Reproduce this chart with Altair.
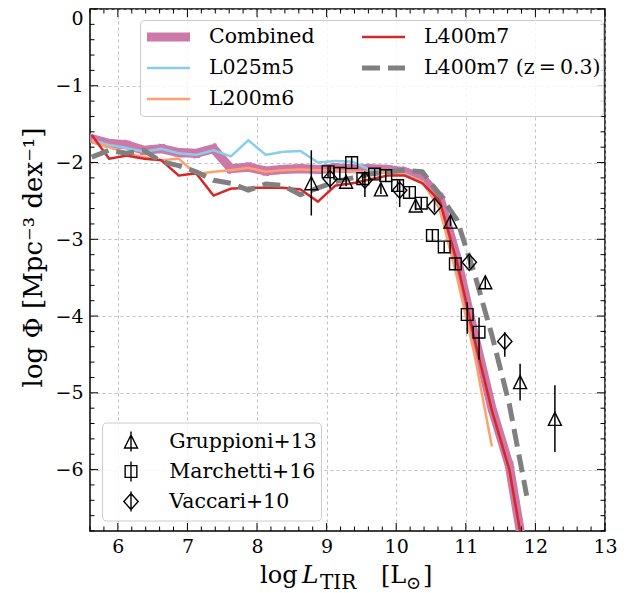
import altair as alt
import pandas as pd

# ---------------- data ----------------
bins = [5.625, 5.875, 6.125, 6.375, 6.625, 6.875, 7.125, 7.375, 7.625, 7.875,
        8.125, 8.375, 8.625, 8.875, 9.125, 9.375, 9.625, 9.875, 10.125, 10.375,
        10.625, 10.875, 11.125, 11.375, 11.625, 11.875]

combined = [-1.69, -1.75, -1.77, -1.84, -1.82, -1.87, -1.88, -1.82, -2.08, -2.06,
            -2.11, -2.09, -2.08, -2.09, -2.07, -2.08, -2.08, -2.09, -2.12, -2.20,
            -2.45, -3.25, -4.25, -5.20, -5.95, -7.30]
l025m5 = [-1.71, -1.77, -1.81, -1.86, -1.82, -1.88, -1.90, -1.84, -1.92, -1.71,
          -1.90, -1.86, -1.85, -2.00, -1.98, -1.99, -2.10, -2.12, -2.15, -2.25,
          -2.60]
l200m6 = [-1.73, -1.80, -1.88, -1.93, -1.97, -1.95, -2.15, -2.12, -2.10, -2.07,
          -2.12, -2.10, -2.09, -2.10, -2.10, -2.12, -2.12, -2.13, -2.16, -2.25,
          -2.60, -3.50, -4.50, -5.70]
l400m7 = [-1.64, -1.95, -1.91, -1.95, -1.97, -2.17, -2.14, -2.43, -2.34, -2.33,
          -2.33, -2.33, -2.35, -2.51, -2.30, -2.27, -2.22, -2.17, -2.17, -2.27,
          -2.50, -3.30, -4.30, -5.23, -6.00, -7.30]
l400m7_z03 = [-1.93, -1.84, -1.88, -1.84, -1.99, -2.04, -2.12, -2.23, -2.27, -2.36,
              -2.28, -2.30, -2.42, -2.33, -2.25, -2.20, -2.15, -2.12, -2.10, -2.12,
              -2.42, -2.75, -3.45, -4.25, -5.15, -6.34]

grup_x = [8.78, 9.28, 9.78, 10.28, 10.78, 11.28, 11.78, 12.28]
grup_y = [-2.27, -2.25, -2.35, -2.56, -2.77, -3.56, -4.86, -5.34]
grup_lo = [-2.69, -2.31, -2.41, -2.62, -2.83, -3.64, -5.10, -5.77]
grup_hi = [-1.84, -2.19, -2.29, -2.50, -2.71, -3.48, -4.62, -4.90]

marc_x = [9.02, 9.19, 9.36, 9.52, 9.69, 9.85, 10.02, 10.19, 10.36, 10.52, 10.69, 10.85, 11.02, 11.19]
marc_y = [-2.12, -2.14, -2.00, -2.21, -2.15, -2.17, -2.30, -2.39, -2.53, -2.95, -3.10, -3.32, -3.98, -4.21]
marc_lo = [-2.19, -2.21, -2.07, -2.28, -2.22, -2.24, -2.37, -2.46, -2.60, -3.02, -3.17, -3.39, -4.23, -4.57]
marc_hi = [-2.05, -2.07, -1.93, -2.14, -2.08, -2.10, -2.23, -2.32, -2.46, -2.88, -3.03, -3.25, -3.82, -4.02]

vacc_x = [9.05, 9.55, 10.05, 10.55, 11.05, 11.56]
vacc_y = [-2.21, -2.23, -2.36, -2.57, -3.30, -4.33]
vacc_lo = [-2.34, -2.45, -2.58, -2.65, -3.38, -4.53]
vacc_hi = [-2.04, -2.12, -2.23, -2.49, -3.22, -4.21]

x_major = [6, 7, 8, 9, 10, 11, 12, 13]
y_major = [0, -1, -2, -3, -4, -5, -6]
x_minor = [round(5.6 + 0.2 * i, 1) for i in range(38)]
x_minor = [v for v in x_minor if abs(v - round(v)) > 1e-6]
y_minor = [round(-0.2 * i, 1) for i in range(35)]
y_minor = [v for v in y_minor if abs(v - round(v)) > 1e-6]

Z_LABEL = "L400m7 (z\u2009=\u20090.3)"
series_order = ["Combined", "L025m5", "L200m6", "L400m7", Z_LABEL]
series_colors = ["#CC79A7", "#87CEEB", "#FFA06E", "#D62728", "#808080"]
series_widths = [9, 2.5, 2.5, 2.5, 5]
series_dash = [[1, 0], [1, 0], [1, 0], [1, 0], [18, 8]]

surveys = ["Gruppioni+13", "Marchetti+16", "Vaccari+10"]
shape_plain = ["M0,-1L1,1L-1,1Z",
               "M-0.9,-0.9L0.9,-0.9L0.9,0.9L-0.9,0.9Z",
               "M0,-1.24L1.1,0L0,1.24L-1.1,0Z"]
shape_bar = [p + "M0,-1.54L0,1.54" for p in shape_plain]

# ---------------- layout ----------------
W, H = 515, 522
SERIF = "DejaVu Serif"
MAJ, MIN = 8, 4.5

xsc = alt.Scale(domain=[5.6, 13], nice=False, zero=False)
ysc = alt.Scale(domain=[-6.8, 0], nice=False, zero=False)

common_axis = dict(grid=True, gridColor="#b0b0b0", gridDash=[3, 3], gridWidth=0.8,
                   domain=False, ticks=False, tickSize=0, labelFont=SERIF,
                   labelFontSize=19, labelColor="black", labelOverlap=False, format="d")
X_AX = alt.Axis(values=x_major, title=None, labelPadding=6, labelFlush=False, **common_axis)
Y_AX = alt.Axis(values=y_major, title="log Φ  [Mpc⁻³ dex⁻¹]", titleFont=SERIF,
                titleFontSize=26, titleFontWeight="normal", titleColor="black",
                titleX=-57, titleY=248, titleAngle=270, titleAlign="center",
                titleBaseline="middle", labelPadding=7, labelFlush=True,
                labelFlushOffset=0, **common_axis)

line_legend = alt.Legend(title=None, orient="none", legendX=50, legendY=11, columns=2,
                         direction="vertical",
                         fillColor="rgba(255,255,255,0.8)", strokeColor="#cccccc",
                         cornerRadius=4, padding=1.5, clipHeight=31, rowPadding=0,
                         columnPadding=41, symbolType="stroke", symbolSize=1849,
                         symbolOffset=1, labelOffset=14.5, labelFont=SERIF,
                         labelFontSize=20.5, labelColor="black", labelLimit=400)

frames = []
for name, vals in [("Combined", combined), ("L025m5", l025m5), ("L200m6", l200m6),
                   ("L400m7", l400m7), (Z_LABEL, l400m7_z03)]:
    frames.append(pd.DataFrame({"series": name, "x": bins[:len(vals)], "y": vals}))


def line_layer(df):
    cap = "square" if df["series"].iloc[0] == "Combined" else "butt"
    return alt.Chart(df).mark_line(clip=True, strokeJoin="round", strokeCap=cap).encode(
        x=alt.X("x:Q", scale=xsc, axis=X_AX),
        y=alt.Y("y:Q", scale=ysc, axis=Y_AX),
        color=alt.Color("series:N", scale=alt.Scale(domain=series_order, range=series_colors),
                        legend=line_legend),
        strokeWidth=alt.StrokeWidth("series:N",
                                    scale=alt.Scale(type="ordinal", domain=series_order,
                                                    range=series_widths),
                                    legend=line_legend),
        strokeDash=alt.StrokeDash("series:N", scale=alt.Scale(domain=series_order, range=series_dash),
                                  legend=line_legend),
    )


line_layers = [line_layer(f) for f in frames]

obs = pd.concat([
    pd.DataFrame({"survey": surveys[0], "x": grup_x, "y": grup_y, "lo": grup_lo, "hi": grup_hi}),
    pd.DataFrame({"survey": surveys[1], "x": marc_x, "y": marc_y, "lo": marc_lo, "hi": marc_hi}),
    pd.DataFrame({"survey": surveys[2], "x": vacc_x, "y": vacc_y, "lo": vacc_lo, "hi": vacc_hi}),
])

errbars = alt.Chart(obs).mark_rule(color="black", strokeWidth=1.5, clip=True).encode(
    x=alt.X("x:Q", scale=xsc, axis=X_AX),
    y=alt.Y("lo:Q", scale=ysc, axis=Y_AX),
    y2="hi:Q",
)
points = alt.Chart(obs).mark_point(filled=False, color="black", strokeWidth=1.4, size=169,
                                   opacity=1, clip=True).encode(
    x=alt.X("x:Q", scale=xsc, axis=X_AX),
    y=alt.Y("y:Q", scale=ysc, axis=Y_AX),
    shape=alt.Shape("survey:N", scale=alt.Scale(domain=surveys, range=shape_plain), legend=None),
)

pt_legend = alt.Legend(title=None, orient="none", legendX=12, legendY=413.5,
                       fillColor="rgba(255,255,255,0.8)", strokeColor="#cccccc",
                       cornerRadius=4, padding=4, clipHeight=30, rowPadding=0,
                       symbolSize=169, symbolStrokeWidth=1.4, symbolOffset=14.75,
                       labelOffset=28, labelFont=SERIF, labelFontSize=20.5,
                       labelColor="black", symbolStrokeColor="black",
                       symbolFillColor="transparent", labelLimit=400)
legend_pts = alt.Chart(pd.DataFrame({"survey": surveys})).transform_filter("false").mark_point(
    filled=False, color="black", strokeWidth=1.4, size=169, opacity=1).encode(
    shape=alt.Shape("survey:N", scale=alt.Scale(domain=surveys, range=shape_bar), legend=pt_legend),
)


def tick_layer(values, horizontal, length, side):
    df = pd.DataFrame({"v": values})
    base = alt.Chart(df).mark_rule(color="black", strokeWidth=1)
    if horizontal:  # ticks on x axis
        if side == "bottom":
            y, y2 = H, H - length
        else:
            y, y2 = 0, length
        return base.encode(x=alt.X("v:Q", scale=xsc, axis=X_AX), y=alt.value(y), y2=alt.value(y2))
    if side == "left":
        x, x2 = 0, length
    else:
        x, x2 = W, W - length
    return base.encode(y=alt.Y("v:Q", scale=ysc, axis=Y_AX), x=alt.value(x), x2=alt.value(x2))


ticks = [
    tick_layer(x_major, True, MAJ, "bottom"), tick_layer(x_major, True, MAJ, "top"),
    tick_layer(x_minor, True, MIN, "bottom"), tick_layer(x_minor, True, MIN, "top"),
    tick_layer(y_major, False, MAJ, "left"), tick_layer(y_major, False, MAJ, "right"),
    tick_layer(y_minor, False, MIN, "left"), tick_layer(y_minor, False, MIN, "right"),
]


def label(text, x, y, size=24, style="normal"):
    return alt.Chart(pd.DataFrame({"t": [text]})).mark_text(
        font=SERIF, fontSize=size, fontStyle=style, align="left", baseline="alphabetic",
        color="black").encode(text="t:N", x=alt.value(x), y=alt.value(y))


xtitle = [
    label("log", 170, 574),
    label("L", 212, 574, size=25, style="italic"),
    label("TIR", 230, 580, size=20),
    label("[L", 291, 574),
    label("⊙", 316, 580, size=18),
    label("]", 333, 574),
]

chart = alt.layer(
    *line_layers, errbars, points, legend_pts, *ticks, *xtitle
).resolve_scale(shape="independent").properties(
    width=W, height=H,
    autosize=alt.AutoSizeParams(type="none"),
    padding={"left": 82, "top": 1, "right": 20, "bottom": 62},
).configure_view(stroke="black", strokeWidth=1.5)

chart.save("out.html", embed_options={"renderer": "svg", "actions": False})
